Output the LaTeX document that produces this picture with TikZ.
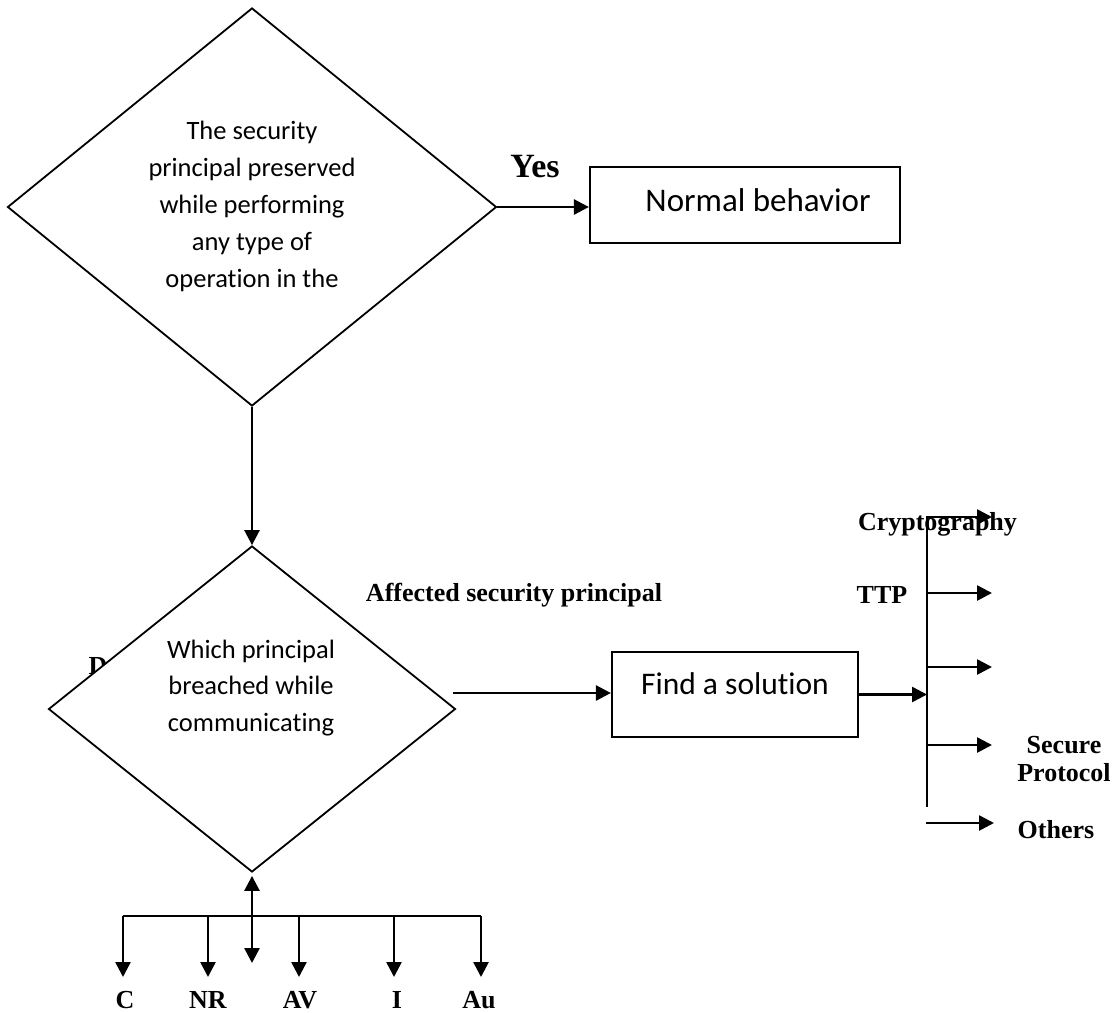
\documentclass[tikz,border=0pt]{standalone}
\usepackage{fontspec}
\setmainfont{Carlito}[Ligatures={NoCommon}]
\newfontfamily\lblfont{Liberation Serif}
\usetikzlibrary{shapes.geometric,arrows.meta}

\begin{document}
\begin{tikzpicture}[x=1pt,y=-1pt,
  decision/.style={draw, diamond, fill=white, line width=1.8pt, inner sep=0pt},
  procbox/.style={draw, rectangle, line width=2.2pt, inner sep=0pt},
  boxtext/.style={font=\fontsize{33}{36}\selectfont, inner sep=0pt},
  tip/.style={Triangle[length=15pt,width=15pt]},
  flow/.style={line width=2.6pt, -{Triangle[length=15pt,width=15pt]}},
  plainline/.style={line width=2.6pt},
  bodytext/.style={align=center, font=\fontsize{26.5}{37}\selectfont, inner sep=0pt},
  tag/.style={font=\fontsize{26}{28}\selectfont\lblfont\bfseries, inner sep=0pt, align=center}
]
\useasboundingbox (0,0) rectangle (1116,1012);

% first decision
\node[decision, minimum width=489pt, minimum height=398pt] (q1) at (252,207) {};
\node[bodytext] (q1txt) at (252,206)
  {The security\\principal preserved\\while performing\\any type of\\operation in the};

% yes branch
\node[font=\fontsize{34}{36}\selectfont\lblfont\bfseries, inner sep=0pt] (yes) at (535,167) {Yes};
\node[procbox, minimum width=310pt, minimum height=76pt,
      label={[boxtext, xshift=13pt, yshift=5pt]center:Normal behavior}] (normal) at (745,205) {};
\draw[flow] (q1.east) -- (q1.east -| normal.west);

% second decision (label behind it is partly covered)
\node[tag] (dlabel) at (98,666) {D};
\node[decision, minimum width=407pt, minimum height=326pt] (q2) at (252,709) {};
\node[bodytext, font=\fontsize{26.5}{36.5}\selectfont] (q2txt) at (251,688)
  {Which principal\\breached while\\communicating};
\draw[flow] (q1.south) -- (q2.north);

% solution box
\node[tag] (affected) at (514,595) {Affected security principal};
\node[procbox, minimum width=246pt, minimum height=85pt,
      label={[boxtext, font=\fontsize{31.5}{34}\selectfont, yshift=11pt]center:Find a solution}] (find) at (735,694.5) {};
\coordinate (fromq2) at (453,693);
\draw[flow] (fromq2) -- (fromq2 -| find.west);

% solution bus
\coordinate (bustop) at (927,516);
\coordinate (busbot) at (927,807);
\draw[plainline] (bustop) -- (busbot);
\draw[flow] (find.east) -- (find.east -| bustop);

\node[tag] (crypto) at (937.5,524) {Cryptography};
\node[tag] (ttp) at (882,595) {TTP};
\node[tag] (secure) at (1064,759) {Secure\\Protocol};
\node[tag] (others) at (1056,830) {Others};

\coordinate (b1) at (927,517); \coordinate (t1) at (992,517);
\coordinate (b2) at (927,593); \coordinate (t2) at (992,593);
\coordinate (b3) at (927,667); \coordinate (t3) at (992,667);
\coordinate (b4) at (927,745); \coordinate (t4) at (992,745);
\coordinate (b5) at (926,823); \coordinate (t5) at (994,823);
\draw[flow] (b1) -- (t1);
\draw[flow] (b2) -- (t2);
\draw[flow] (b3) -- (t3);
\draw[flow] (b4) -- (t4);
\draw[flow] (b5) -- (t5);

% principal bus below the second decision
\coordinate (busL) at (123,916);
\coordinate (busR) at (481,916);
\draw[plainline] (busL) -- (busR);
\coordinate (updown) at (252,963);
\draw[plainline, {Triangle[length=15pt,width=15pt]}-{Triangle[length=15pt,width=15pt]}]
  (updown) -- ([yshift=-3pt]q2.south);

\node[tag] (pc) at (125,1000) {C};
\node[tag] (pnr) at (208,1000) {NR};
\node[tag] (pav) at (300,1000) {AV};
\node[tag] (pi) at (397,1000) {I};
\node[tag] (pau) at (479,1000) {Au};

\foreach \n/\x in {pc/123, pnr/208, pav/299, pi/394, pau/481}{
  \coordinate (\n top) at (\x,916);
  \coordinate (\n tip) at (\x,977);
  \draw[flow] (\n top) -- (\n tip);
}
\end{tikzpicture}
\end{document}
